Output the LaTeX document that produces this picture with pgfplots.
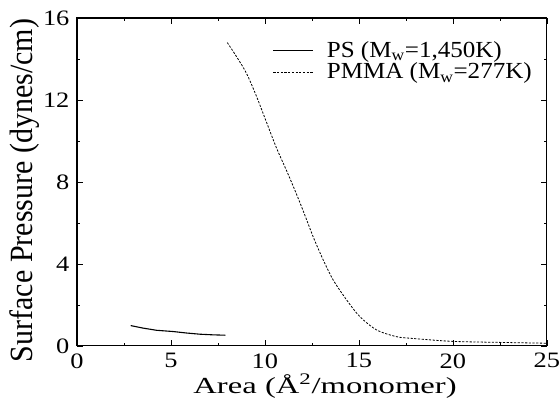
\documentclass[border=0pt]{standalone}
\usepackage{fontspec}
\setmainfont{Liberation Serif}
\usepackage{graphicx}
\usepackage{pgfplots}
\pgfplotsset{compat=1.18}
\begin{document}
\fontsize{22}{26}\selectfont
\begin{tikzpicture}
\begin{axis}[
  scale only axis,
  width=470pt, height=328pt,
  xmin=0, xmax=25, ymin=0, ymax=16,
  xtick={0,5,10,15,20,25},
  ytick={0,4,8,12,16},
  minor x tick num=1,
  minor y tick num=1,
  tick align=inside,
  major tick length=6pt,
  minor tick length=3pt,
  axis line style={line width=1.1pt},
  tick style={line width=0.6pt, black},
  /pgf/number format/assume math mode=true,
  xticklabel={\scalebox{1.2}[1]{\pgfmathprintnumber{\tick}}},
  yticklabel={\scalebox{1.2}[1]{\pgfmathprintnumber{\tick}}},
  xticklabel style={inner xsep=0pt},
  yticklabel style={inner ysep=0pt},
  xlabel={\scalebox{1.42}[1]{\fontsize{23}{26}\selectfont Area (Å\textsuperscript{2}/monomer)}},
  ylabel={\scalebox{1}[1.08]{\fontsize{30}{32}\selectfont Surface Pressure (dynes/cm)}},
  xlabel style={at={(axis description cs:0.528,-0.146)}, anchor=base, inner sep=0pt},
  ylabel style={at={(axis description cs:-0.0936,0.474)}, anchor=base, inner sep=0pt},
  legend style={draw=none, fill=none, at={(0.41,0.936)}, anchor=north west, row sep=2.5pt,
    nodes={inner sep=0pt}, font=\fontsize{23}{26}\selectfont},
  legend cell align=left,
  legend image code/.code={\draw[#1] (0pt,0pt) -- (40pt,0pt); \path (53pt,0pt);},
]
\addplot[black, line width=1.1pt] coordinates {
(2.86,0.99) (3.5,0.87) (4.24,0.76) (5.12,0.70) (5.8,0.63) (6.54,0.57) (7.2,0.54) (7.9,0.52)
};
\addlegendentry{\scalebox{1.09}[1]{PS (M\textsubscript{w}=1,450K)}}
\addplot[black, line width=0.8pt, dash pattern=on 2.2pt off 1.5pt, smooth] coordinates {
(8.0,14.8) (8.5,14.1) (9.02,13.3) (9.56,12.16) (10.09,10.9) (10.62,9.65) (11.2,8.45) (11.75,7.25) (12.2,6.2) (12.6,5.25) (13.1,4.2) (13.63,3.22) (14.35,2.24) (15.05,1.43) (15.94,0.78) (17.0,0.45) (17.9,0.36) (20.0,0.22) (22.5,0.17) (25.0,0.13)
};
\addlegendentry{\scalebox{1.09}[1]{PMMA (M\textsubscript{w}=277K)}}
\coordinate (SW) at (rel axis cs:0,0);
\coordinate (NE) at (rel axis cs:1,1);
\end{axis}
\path ([shift={(-77pt,-57pt)}]SW) rectangle ([shift={(13pt,18pt)}]NE);
\end{tikzpicture}
\end{document}
